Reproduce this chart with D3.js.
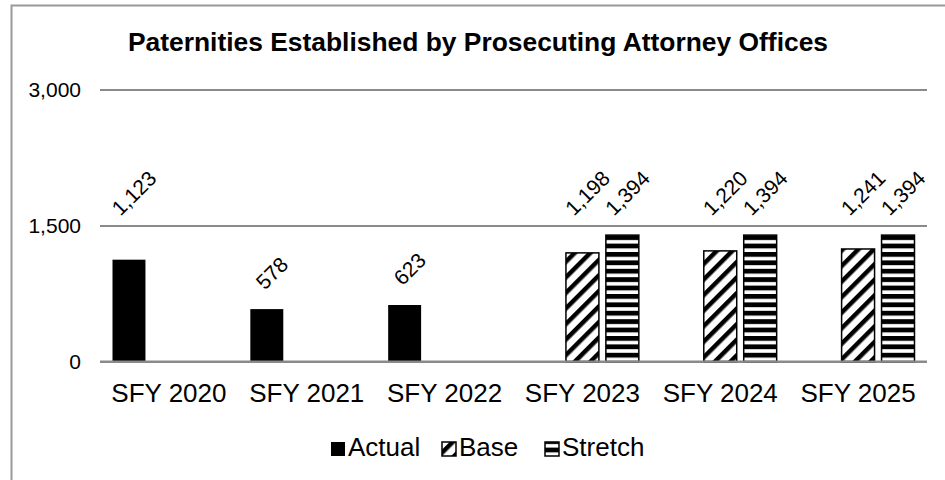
<!DOCTYPE html>
<html>
<head>
<meta charset="utf-8">
<script src="https://cdn.jsdelivr.net/npm/d3@7/dist/d3.min.js"></script>
<style>
  body { margin: 0; background: #fff; }
  svg { display: block; font-family: "Liberation Sans", Arial, sans-serif; }
</style>
</head>
<body>
<div id="chart"></div>
<script>
// chart data
const categories = ["SFY 2020", "SFY 2021", "SFY 2022", "SFY 2023", "SFY 2024", "SFY 2025"];
const seriesNames = ["Actual", "Base", "Stretch"];
const actualValues = [1123, 578, 623, null, null, null];
const baseValues = [null, null, null, 1198, 1220, 1241];
const stretchValues = [null, null, null, 1394, 1394, 1394];
const yTicks = [0, 1500, 3000];

const width = 945, height = 480;
const plot = { left: 100, right: 927, top: 89.5, bottom: 361.5 };

const svg = d3.select("#chart").append("svg")
    .attr("width", width)
    .attr("height", height);

// patterns for the targets
const defs = svg.append("defs");
const diag = defs.append("pattern")
    .attr("id", "pat-base")
    .attr("patternUnits", "userSpaceOnUse")
    .attr("width", 11).attr("height", 11)
    .attr("patternTransform", "rotate(45)");
diag.append("rect").attr("width", 11).attr("height", 11).attr("fill", "#fff");
diag.append("rect").attr("width", 4.5).attr("height", 11).attr("fill", "#000");

const horiz = defs.append("pattern")
    .attr("id", "pat-stretch")
    .attr("patternUnits", "userSpaceOnUse")
    .attr("width", 8).attr("height", 8.4);
horiz.append("rect").attr("width", 8).attr("height", 8.4).attr("fill", "#fff");
horiz.append("rect").attr("width", 8).attr("height", 4.8).attr("fill", "#000");

const fills = { Actual: "#000", Base: "url(#pat-base)", Stretch: "url(#pat-stretch)" };

// outer chart frame
svg.append("rect")
    .attr("x", 11.5).attr("y", 5.5)
    .attr("width", 960).attr("height", 500)
    .attr("fill", "#fff")
    .attr("stroke", "#999")
    .attr("stroke-width", 2);

svg.append("text")
    .attr("x", 478).attr("y", 51)
    .attr("text-anchor", "middle")
    .style("font-size", "26.4px")
    .style("font-weight", "bold")
    .text("Paternities Established by Prosecuting Attorney Offices");

// scales
const x0 = d3.scaleBand().domain(categories).range([plot.left, plot.right]);
const x1 = d3.scaleBand().domain(seriesNames)
    .range([12.5, x0.bandwidth() - 12.5])
    .paddingInner(0.175);
const y = d3.scaleLinear().domain([0, 3000]).range([plot.bottom, plot.top]);

// gridlines + y labels
const yAxis = svg.append("g")
    .attr("transform", "translate(" + plot.left + ",0)")
    .call(d3.axisLeft(y).tickValues(yTicks)
        .tickSize(-(plot.right - plot.left))
        .tickPadding(19)
        .tickFormat(d3.format(",")));
yAxis.select(".domain").remove();
yAxis.selectAll(".tick line").attr("stroke", "#8a8a8a").attr("stroke-width", 2);
yAxis.selectAll(".tick text")
    .attr("fill", "#000")
    .style("font-size", "21px")
    .style("font-family", "Liberation Sans, Arial, sans-serif");

// x labels
const xAxis = svg.append("g")
    .attr("transform", "translate(0," + plot.bottom + ")")
    .call(d3.axisBottom(x0).tickSize(0).tickPadding(22));
xAxis.select(".domain").remove();
xAxis.selectAll(".tick text")
    .attr("fill", "#000")
    .attr("dy", "0.71em")
    .style("font-size", "26px")
    .style("font-family", "Liberation Sans, Arial, sans-serif");

// bars
const rows = [];
categories.forEach(function(c, i) {
  [actualValues, baseValues, stretchValues].forEach(function(vals, j) {
    if (vals[i] != null) rows.push({ cat: c, series: seriesNames[j], value: vals[i] });
  });
});

const bars = svg.append("g");
bars.selectAll("rect")
    .data(rows)
    .enter().append("rect")
    .attr("x", function(d) { return x0(d.cat) + x1(d.series); })
    .attr("y", function(d) { return y(d.value); })
    .attr("width", x1.bandwidth())
    .attr("height", function(d) { return y(0) - y(d.value); })
    .attr("fill", function(d) { return fills[d.series]; })
    .attr("stroke", function(d) { return d.series === "Actual" ? "none" : "#000"; })
    .attr("stroke-width", 1.5);

// zero line on top
svg.append("line")
    .attr("x1", plot.left).attr("x2", plot.right)
    .attr("y1", y(0)).attr("y2", y(0))
    .attr("stroke", "#8a8a8a").attr("stroke-width", 2);

// rotated data labels (long labels sit on a common row, short ones just above the bar)
const fmt = d3.format(",");
const labelRow = 193;
svg.append("g").selectAll("text")
    .data(rows)
    .enter().append("text")
    .attr("transform", function(d) {
      const cx = x0(d.cat) + x1(d.series) + x1.bandwidth() / 2 + 5;
      const cy = fmt(d.value).length > 3 ? labelRow : y(d.value) - 36;
      return "translate(" + cx + "," + cy + ") rotate(-45)";
    })
    .attr("text-anchor", "middle")
    .attr("dy", "0.35em")
    .style("font-size", "21px")
    .text(function(d) { return fmt(d.value); });

// legend
const legendX = [331, 442, 545];
const legend = svg.append("g").attr("transform", "translate(0,456)");
seriesNames.forEach(function(name, i) {
  legend.append("rect")
      .attr("x", legendX[i]).attr("y", -14)
      .attr("width", 14).attr("height", 14)
      .attr("fill", fills[name])
      .attr("stroke", name === "Actual" ? "none" : "#000")
      .attr("stroke-width", 1.5);
  legend.append("text")
      .attr("x", legendX[i] + 17).attr("y", 0)
      .style("font-size", "26px")
      .text(name);
});
</script>
</body>
</html>
